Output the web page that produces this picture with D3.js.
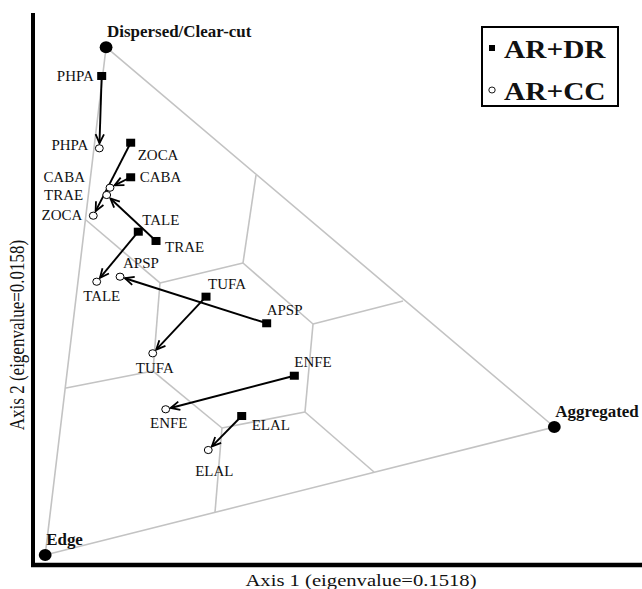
<!DOCTYPE html>
<html>
<head>
<meta charset="utf-8">
<script src="https://cdn.jsdelivr.net/npm/d3@7/dist/d3.min.js"></script>
<style>
  html, body { margin: 0; padding: 0; background: #fff; }
  svg { display: block; }
  text { font-family: "Liberation Serif", "Times New Roman", serif; fill: #111; }
</style>
</head>
<body>
<svg id="chart" width="642" height="589"></svg>
<script>
// ---------- data (ordination units, Axis 1 / Axis 2 on a 0-100 frame) ----------
const vertexNames = ["Dispersed/Clear-cut", "Aggregated", "Edge"];
const vertexX = [12.0, 85.6, 2.0];
const vertexY = [93.8, 25.0, 1.8];

const species = ["PHPA", "ZOCA", "CABA", "TALE", "TRAE", "TUFA", "APSP", "ENFE", "ELAL"];
// AR+DR (filled squares)
const drX = [11.28, 16.04, 16.04, 17.29, 20.20, 28.41, 38.37, 42.91, 34.27];
const drY = [88.59, 76.50, 70.24, 60.38, 58.70, 48.61, 43.79, 34.29, 26.99];
// AR+CC (open circles)
const ccX = [10.89, 9.90, 12.64, 10.46, 12.10, 19.66, 14.29, 21.79, 28.78];
const ccY = [75.49, 63.28, 68.35, 51.32, 67.03, 38.35, 52.23, 28.21, 20.83];

// internal region boundaries [x1, y1, x2, y2]
const boundaries = [
  [8.70, 62.50, 20.85, 51.09],
  [20.85, 51.09, 34.48, 54.71],
  [34.48, 54.71, 36.62, 70.65],
  [34.48, 54.71, 45.98, 43.66],
  [45.98, 43.66, 60.76, 47.83],
  [45.98, 43.66, 44.66, 27.72],
  [20.85, 51.09, 19.70, 35.14],
  [19.70, 35.14, 5.42, 32.07],
  [19.70, 35.14, 31.03, 24.82],
  [31.03, 24.82, 44.66, 27.72],
  [31.03, 24.82, 29.89, 9.60],
  [44.66, 27.72, 55.99, 16.85]
];

const legendLabels = ["AR+DR", "AR+CC"];
const xTitle = "Axis 1 (eigenvalue=0.1518)";
const yTitle = "Axis 2 (eigenvalue=0.0158)";

// ---------- layout (styles / label placements) ----------
const drLabel = {
  PHPA: [-8, 5, "end"], ZOCA: [7, 17.5, "start"], CABA: [9, 5, "start"],
  TALE: [4, -6.5, "start"], TRAE: [9, 11, "start"], TUFA: [2, -7.5, "start"],
  APSP: [0, -8.5, "start"], ENFE: [0, -8.5, "start"], ELAL: [10, 14, "start"]
};
const ccLabel = {
  PHPA: [-11, 1.5, "end"], ZOCA: [-11, 4.5, "end"], CABA: [-25, -5.5, "end"],
  TALE: [5, 19.5, "middle"], TRAE: [-23.5, 5, "end"], TUFA: [2, 19.5, "middle"],
  APSP: [3, -8.5, "start"], ENFE: [3, 18.5, "middle"], ELAL: [6, 26, "middle"]
};
const vertexLabel = [[1, -10, "start"], [1, -10, "start"], [1, -10, "start"]];

const svg = d3.select("#chart");
const x = d3.scaleLinear().domain([0, 100]).range([33, 642]);
const y = d3.scaleLinear().domain([0, 100]).range([565, 13]);

function stretchedText(g, px, py, str, opts) {
  return g.append("text")
    .attr("transform", `translate(${px},${py}) scale(${opts.sx},1)`)
    .attr("text-anchor", opts.anchor || "start")
    .attr("font-size", opts.size)
    .attr("font-weight", opts.weight || "normal")
    .text(str);
}

// grey triangle + boundaries
const grey = svg.append("g").attr("stroke", "#c3c3c3").attr("stroke-width", 1.6).attr("fill", "none");
const tri = [0, 1, 2].map(i => [x(vertexX[i]), y(vertexY[i])]);
grey.append("path").attr("d", d3.line()([tri[0], tri[1], tri[2], tri[0]]));
grey.selectAll("line.b").data(boundaries).join("line")
  .attr("x1", d => x(d[0])).attr("y1", d => y(d[1]))
  .attr("x2", d => x(d[2])).attr("y2", d => y(d[3]));

// axes (thick black frame lines, no ticks)
const yAxis = d3.axisLeft(y).tickValues([]).tickSize(0);
const xAxis = d3.axisBottom(x).tickValues([]).tickSize(0);
svg.append("g").attr("transform", `translate(${x(0)},0)`).call(yAxis)
  .select(".domain").attr("stroke", "#000").attr("stroke-width", 4).attr("d", `M0,${y(100)}V${y(0) + 2}`);
svg.append("g").attr("transform", `translate(0,${y(0)})`).call(xAxis)
  .select(".domain").attr("stroke", "#000").attr("stroke-width", 4.5).attr("d", `M${x(0) - 2},0H${x(100)}`);

// arrow marker
const defs = svg.append("defs");
defs.append("marker").attr("id", "arr").attr("markerUnits", "userSpaceOnUse")
  .attr("viewBox", "-11 -6 13 12").attr("refX", 0).attr("refY", 0)
  .attr("markerWidth", 13).attr("markerHeight", 12).attr("orient", "auto")
  .append("path").attr("d", "M-9,-4.2 L0,0 L-9,4.2").attr("fill", "none")
  .attr("stroke", "#000").attr("stroke-width", 1.8);

// arrows from AR+DR to AR+CC
const CR = 3.6;
svg.append("g").selectAll("line").data(species).join("line")
  .each(function (s, i) {
    const x1 = x(drX[i]), y1 = y(drY[i]), x2 = x(ccX[i]), y2 = y(ccY[i]);
    const L = Math.hypot(x2 - x1, y2 - y1), k = (L - CR - 1.5) / L;
    d3.select(this).attr("x1", x1).attr("y1", y1)
      .attr("x2", x1 + (x2 - x1) * k).attr("y2", y1 + (y2 - y1) * k);
  })
  .attr("stroke", "#000").attr("stroke-width", 1.9).attr("marker-end", "url(#arr)");

// markers
svg.append("g").selectAll("rect").data(species).join("rect")
  .attr("x", (s, i) => x(drX[i]) - 4.5).attr("y", (s, i) => y(drY[i]) - 4)
  .attr("width", 9).attr("height", 8).attr("fill", "#000");
svg.append("g").selectAll("ellipse").data(species).join("ellipse")
  .attr("cx", (s, i) => x(ccX[i])).attr("cy", (s, i) => y(ccY[i]))
  .attr("rx", CR * 1.1).attr("ry", CR).attr("fill", "#fff").attr("stroke", "#000").attr("stroke-width", 1);

// species labels
const lab = svg.append("g");
species.forEach((s, i) => {
  const a = drLabel[s], b = ccLabel[s];
  stretchedText(lab, x(drX[i]) + a[0], y(drY[i]) + a[1], s, { anchor: a[2], size: 14, sx: 1.07 });
  stretchedText(lab, x(ccX[i]) + b[0], y(ccY[i]) + b[1], s, { anchor: b[2], size: 14, sx: 1.07 });
});

// vertices
const vg = svg.append("g");
vertexNames.forEach((n, i) => {
  vg.append("ellipse").attr("cx", x(vertexX[i])).attr("cy", y(vertexY[i]))
    .attr("rx", 6.4).attr("ry", 6).attr("fill", "#000");
  const v = vertexLabel[i];
  stretchedText(vg, x(vertexX[i]) + v[0], y(vertexY[i]) + v[1], n, { anchor: v[2], size: 16, weight: "bold", sx: 1.06 });
});

// legend
const lg = svg.append("g");
lg.append("rect").attr("x", 482).attr("y", 27).attr("width", 136).attr("height", 79)
  .attr("fill", "#fff").attr("stroke", "#000").attr("stroke-width", 2);
lg.append("rect").attr("x", 489).attr("y", 45).attr("width", 6).attr("height", 6).attr("fill", "#000");
lg.append("ellipse").attr("cx", 492).attr("cy", 90).attr("rx", 3.2).attr("ry", 3).attr("fill", "#fff")
  .attr("stroke", "#000").attr("stroke-width", 0.9);
stretchedText(lg, 504, 58, legendLabels[0], { size: 26, weight: "bold", sx: 1.13 });
stretchedText(lg, 504, 100, legendLabels[1], { size: 26, weight: "bold", sx: 1.13 });

// axis titles
stretchedText(svg, 361, 586, xTitle, { anchor: "middle", size: 17.5, sx: 1.18 });
svg.append("text")
  .attr("transform", `translate(24,335) scale(1.2,1) rotate(-90)`)
  .attr("text-anchor", "middle").attr("font-size", 17).text(yTitle);
</script>
</body>
</html>
